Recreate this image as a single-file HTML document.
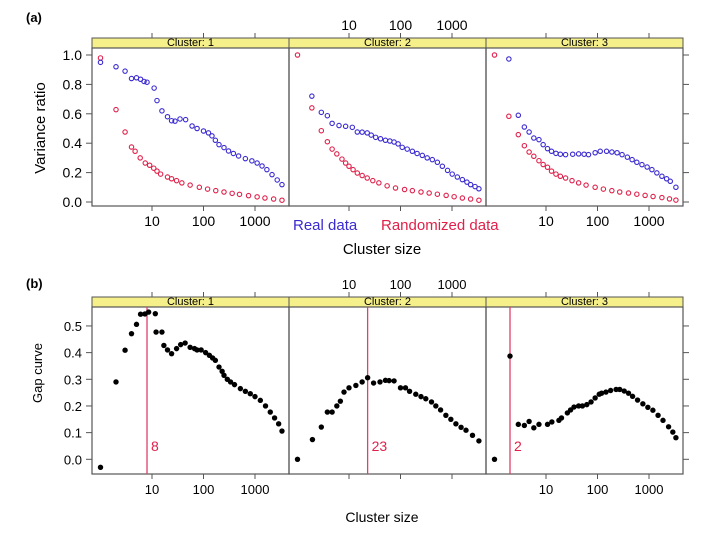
<!DOCTYPE html>
<html><head><meta charset="utf-8"><style>
html,body{margin:0;padding:0;background:#fff;width:720px;height:540px;overflow:hidden}
svg{font-family:"Liberation Sans",sans-serif}
</style></head><body>
<svg id="chart" width="720" height="540" viewBox="0 0 720 540" xmlns="http://www.w3.org/2000/svg">
<text x="26" y="22" font-size="13" font-weight="bold">(a)</text>
<text x="26" y="288" font-size="13" font-weight="bold">(b)</text>
<text transform="translate(45,128) rotate(-90)" text-anchor="middle" font-size="15">Variance ratio</text>
<text transform="translate(42,373) rotate(-90)" text-anchor="middle" font-size="13">Gap curve</text>
<text x="382" y="254" text-anchor="middle" font-size="15">Cluster size</text>
<text x="382" y="522" text-anchor="middle" font-size="14">Cluster size</text>
<text x="293" y="230" font-size="15" fill="#3a2ad0">Real data</text>
<text x="381" y="230" font-size="15" fill="#e0204a">Randomized data</text>
<g id="plots"></g>
</svg>
<script>
// ---- data (a) variance ratio ----
const a1RealSize=[1,2,3,4,5,6,7,8,11,12.5,15.6,20,24,28,35,45,60,75,100,125,146,170,200,250,306,380,480,650,870,1100,1370,1700,2140,2700,3340];
const a1RealVal=[0.95,0.92,0.89,0.84,0.845,0.835,0.82,0.815,0.775,0.69,0.62,0.58,0.553,0.55,0.565,0.56,0.517,0.50,0.483,0.47,0.45,0.42,0.39,0.37,0.347,0.33,0.313,0.295,0.28,0.265,0.245,0.22,0.186,0.15,0.118];
const a1RandSize=[1,2,3,4,4.7,5.9,7.4,9,10.8,12.5,14.7,20,24,30,38,55,83,120,173,250,360,500,750,1100,1560,2300,3340];
const a1RandVal=[0.98,0.628,0.476,0.374,0.345,0.30,0.265,0.25,0.23,0.21,0.19,0.17,0.158,0.145,0.13,0.115,0.10,0.088,0.077,0.068,0.059,0.052,0.043,0.035,0.027,0.02,0.012];
const a2RealSize=[1.9,2.9,3.8,4.7,6.4,8.6,11.6,14.5,18,22.6,27,33,41,51,62,75,90,108,135,170,210,265,330,415,520,650,820,1010,1270,1590,1950,2300,2800,3330];
const a2RealVal=[0.72,0.61,0.587,0.535,0.52,0.515,0.508,0.476,0.475,0.47,0.455,0.44,0.43,0.42,0.415,0.408,0.395,0.372,0.36,0.345,0.33,0.317,0.30,0.288,0.27,0.243,0.215,0.19,0.17,0.152,0.135,0.118,0.105,0.09];
const a2RandSize=[1,1.9,2.9,3.8,4.7,5.8,7.3,8.6,10,12,14.5,18,22.6,29,38,55,80,120,170,250,360,520,770,1100,1590,2300,3330];
const a2RandVal=[1.0,0.64,0.485,0.41,0.36,0.327,0.292,0.265,0.243,0.22,0.197,0.18,0.163,0.145,0.13,0.11,0.095,0.085,0.077,0.068,0.061,0.053,0.045,0.036,0.027,0.02,0.012];
const a3RealSize=[1.9,2.9,3.8,4.7,5.8,7.3,8.8,10.7,12.8,15.6,19,24,33,43,55,67,90,113,150,190,240,300,380,470,580,730,920,1140,1420,1780,2200,2590,3330];
const a3RealVal=[0.973,0.59,0.51,0.476,0.435,0.424,0.39,0.363,0.345,0.331,0.325,0.322,0.325,0.327,0.325,0.322,0.335,0.345,0.345,0.34,0.335,0.322,0.305,0.288,0.27,0.254,0.238,0.22,0.198,0.175,0.158,0.141,0.10];
const a3RandSize=[1,1.9,2.9,3.8,4.7,5.8,7.3,8.8,10.7,12.8,15.6,19,24,32,43,60,90,130,190,270,400,580,840,1200,1780,2500,3330];
const a3RandVal=[1.0,0.583,0.458,0.383,0.34,0.311,0.281,0.255,0.236,0.21,0.19,0.175,0.163,0.145,0.13,0.115,0.10,0.088,0.077,0.068,0.061,0.053,0.045,0.037,0.03,0.021,0.013];
// ---- data (b) gap curve ----
const b1Size=[1,2,3,4,5,6,7.3,8.6,11.6,12,15.6,17,20,24,30,36,44,55,67,75,90,110,130,150,170,200,230,250,290,335,400,520,650,810,1000,1270,1600,1980,2400,2880,3340];
const b1Val=[-0.03,0.29,0.409,0.471,0.506,0.544,0.545,0.552,0.546,0.477,0.477,0.427,0.41,0.396,0.415,0.43,0.436,0.42,0.415,0.41,0.41,0.40,0.39,0.38,0.371,0.346,0.33,0.315,0.30,0.29,0.28,0.265,0.255,0.246,0.235,0.221,0.20,0.177,0.155,0.133,0.106];
const b2Size=[1,1.95,2.9,3.8,4.7,5.8,6.8,8,10,13.6,18,23,30,40,51,60,75,100,125,150,198,250,310,400,485,600,760,950,1190,1500,1870,2500,3330];
const b2Val=[0.0,0.074,0.121,0.177,0.177,0.2,0.218,0.252,0.268,0.277,0.29,0.306,0.286,0.29,0.296,0.295,0.294,0.268,0.268,0.255,0.244,0.235,0.227,0.215,0.2,0.185,0.165,0.15,0.133,0.12,0.109,0.09,0.069];
const b3Size=[1,2,2.9,3.8,4.7,5.8,7.3,10.7,13,17.8,20,26,30,35,43,51,62,75,90,108,120,146,180,230,270,330,400,480,600,760,950,1190,1500,1870,2400,2900,3330];
const b3Val=[0.0,0.387,0.131,0.127,0.142,0.118,0.131,0.131,0.14,0.146,0.155,0.174,0.185,0.196,0.2,0.2,0.205,0.215,0.23,0.244,0.248,0.252,0.258,0.262,0.262,0.256,0.248,0.236,0.222,0.208,0.195,0.184,0.165,0.146,0.122,0.102,0.081];
const optimalK=[8,23,2];
const xTicks=[10,100,1000];
const xTickLabels=["10","100","1000"];
const yTicksA=[0,0.2,0.4,0.6,0.8,1.0];
const yTickLabelsA=["0.0","0.2","0.4","0.6","0.8","1.0"];
const yTicksB=[0,0.1,0.2,0.3,0.4,0.5];
const yTickLabelsB=["0.0","0.1","0.2","0.3","0.4","0.5"];

const NS="http://www.w3.org/2000/svg";
const root=document.getElementById('plots');
function el(tag,attrs,parent){const e=document.createElementNS(NS,tag);for(const k in attrs)e.setAttribute(k,attrs[k]);(parent||root).appendChild(e);return e;}
const panelL=[92,289,486], panelW=197, decade=51.5, origin=8.5;
function xScale(p,s){return panelL[p]+origin+Math.log10(s)*decade;}

function drawRow(cfg){
  const {stripTop,stripBot,plotBot,y0,yPerUnit,yTicks,yLabels,fs,rowName}=cfg;
  const yS=v=>y0-v*yPerUnit;
  for(let p=0;p<3;p++){
    const x0=panelL[p];
    const strip=el('rect',{x:x0,y:stripTop,width:panelW,height:stripBot-stripTop,fill:'#f6f08a',stroke:'#555','stroke-width':1});
    
    
    const st=el('text',{x:x0+panelW/2,y:stripBot-2,'text-anchor':'middle','font-size':11});
    st.textContent='Cluster: '+(p+1);
    
    
    const fr=el('rect',{x:x0,y:stripBot,width:panelW,height:plotBot-stripBot,fill:'none',stroke:'#555','stroke-width':1.2});
    
    
    for(let i=0;i<xTicks.length;i++){
      const x=xScale(p,xTicks[i]);
      el('line',{x1:x,x2:x,y1:plotBot,y2:plotBot+5,stroke:'#555'});
      el('line',{x1:x,x2:x,y1:stripTop,y2:stripTop-5,stroke:'#555'});
      if(p!==1){
        const t=el('text',{x:x,y:plotBot+20,'text-anchor':'middle','font-size':fs});
        t.textContent=xTickLabels[i];
        
        
      } else {
        const t=el('text',{x:x,y:stripTop-8,'text-anchor':'middle','font-size':fs});
        t.textContent=xTickLabels[i];
        
        
      }
    }
  }
  for(let i=0;i<yTicks.length;i++){
    const y=yS(yTicks[i]);
    el('line',{x1:86,x2:92,y1:y,y2:y,stroke:'#555'});
    el('line',{x1:683,x2:689,y1:y,y2:y,stroke:'#555'});
    const t=el('text',{x:82,y:y+5,'text-anchor':'end','font-size':fs});
    t.textContent=yLabels[i];
    
    
  }
  return yS;
}

const ySA=drawRow({stripTop:38,stripBot:48,plotBot:206,y0:202,yPerUnit:147,yTicks:yTicksA,yLabels:yTickLabelsA,fs:14,rowName:'a'});
const ySB=drawRow({stripTop:297,stripBot:307,plotBot:474,y0:459.3,yPerUnit:266.7,yTicks:yTicksB,yLabels:yTickLabelsB,fs:13,rowName:'b'});

function openPts(p,sizes,vals,color,name){
  for(let i=0;i<sizes.length;i++){
    const c=el('circle',{cx:xScale(p,sizes[i]),cy:ySA(vals[i]),r:2.2,fill:'none',stroke:color,'stroke-width':1.1});
    
    
  }
}
openPts(0,a1RandSize,a1RandVal,'#e0204a','randomized-point-c1');
openPts(0,a1RealSize,a1RealVal,'#3a2ad0','real-point-c1');
openPts(1,a2RandSize,a2RandVal,'#e0204a','randomized-point-c2');
openPts(1,a2RealSize,a2RealVal,'#3a2ad0','real-point-c2');
openPts(2,a3RandSize,a3RandVal,'#e0204a','randomized-point-c3');
openPts(2,a3RealSize,a3RealVal,'#3a2ad0','real-point-c3');

const gapS=[b1Size,b2Size,b3Size], gapV=[b1Val,b2Val,b3Val];
for(let p=0;p<3;p++){
  const x=xScale(p,optimalK[p]);
  const ln=el('line',{x1:x,x2:x,y1:307,y2:474,stroke:'#e0406a','stroke-width':1.3});
  
  
  const t=el('text',{x:x+4,y:451,'font-size':14,fill:'#e0204a'});
  t.textContent=String(optimalK[p]);
  
  
  for(let i=0;i<gapS[p].length;i++){
    const c=el('circle',{cx:xScale(p,gapS[p][i]),cy:ySB(gapV[p][i]),r:2.7,fill:'#000'});
    
    
  }
}
</script>
</body></html>
